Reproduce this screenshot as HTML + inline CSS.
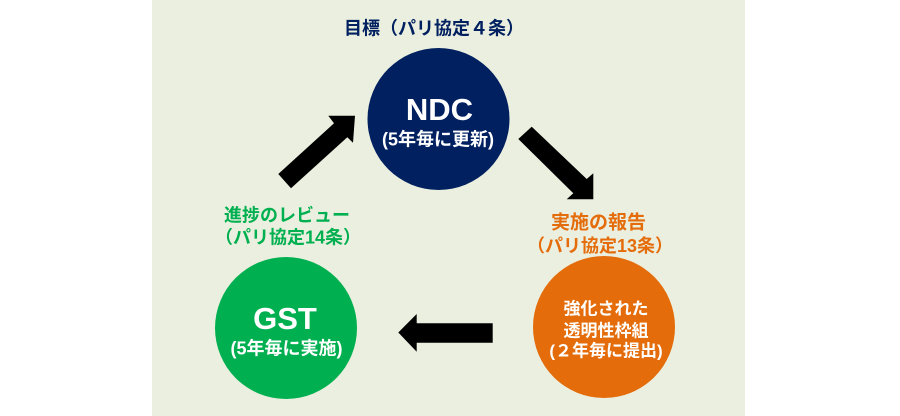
<!DOCTYPE html>
<html><head><meta charset="utf-8"><style>
html,body{margin:0;padding:0;background:#fff;width:900px;height:416px;overflow:hidden}
svg{display:block}
text{font-family:"Liberation Sans","Noto Sans CJK JP",sans-serif;font-weight:bold;text-anchor:middle}
</style></head><body>
<svg width="900" height="416" viewBox="0 0 900 416" xmlns="http://www.w3.org/2000/svg">
<rect x="152" y="0" width="593" height="416" fill="#EBEFDF"/>
<text x="434" y="34.5" font-size="18" fill="#002060">目標（パリ協定４条）</text>
<circle cx="438.5" cy="119" r="71" fill="#002060"/>
<text x="439.5" y="120" font-size="31" fill="#fff" style="font-family:'Liberation Sans',sans-serif">NDC</text>
<text x="438" y="145.5" font-size="18" fill="#fff">(5年毎に更新)</text>
<polygon points="278.3,174 334,123.3 328.3,115.7 355,115.7 353,142.7 347.3,137.3 291,188.3" fill="#000"/>
<polygon points="531.7,126.7 586.7,179 593.3,173.3 593.3,199.3 566.7,199.3 573.3,193.3 518.3,139" fill="#000"/>
<polygon points="398.3,332.5 416.7,314 416.7,323.3 492.7,323.3 492.7,342.7 416.7,342.7 416.7,351.7" fill="#000"/>
<text x="287" y="221.5" font-size="18" fill="#00B050">進捗のレビュー</text>
<text x="288" y="243.5" font-size="18" fill="#00B050">（パリ協定14条）</text>
<circle cx="286" cy="328" r="71" fill="#00B050"/>
<text x="285" y="329" font-size="31" fill="#fff" style="font-family:'Liberation Sans',sans-serif">GST</text>
<text x="286.5" y="354.5" font-size="18" fill="#fff">(5年毎に実施)</text>
<text x="598.5" y="228.5" font-size="19" fill="#E46C0A">実施の報告</text>
<text x="600" y="252" font-size="18" fill="#E46C0A">（パリ協定13条）</text>
<circle cx="604" cy="327" r="71" fill="#E46C0A"/>
<text x="606" y="314.5" font-size="17" fill="#fff">強化された</text>
<text x="606" y="336.5" font-size="17" fill="#fff">透明性枠組</text>
<text x="606" y="356.5" font-size="17" fill="#fff">(２年毎に提出)</text>
</svg>
</body></html>
